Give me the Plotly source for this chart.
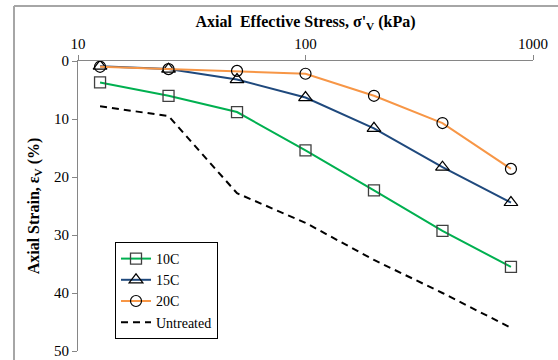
import plotly.graph_objects as go

stress = [12.5, 25, 50, 100, 200, 400, 800]
strain_10c = [3.7, 6.0, 8.8, 15.4, 22.3, 29.3, 35.5]
strain_15c = [0.9, 1.4, 3.2, 6.3, 11.6, 18.3, 24.4]
strain_20c = [1.0, 1.4, 1.7, 2.2, 6.0, 10.7, 18.6]
strain_untreated = [7.8, 9.5, 22.8, 27.9, 34.3, 40.0, 46.0]
series_names = ["10C", "15C", "20C", "Untreated"]
x_ticks = [10, 100, 1000]
y_ticks = [0, 10, 20, 30, 40, 50]

FONT = "Liberation Serif"

fig = go.Figure()
fig.add_trace(go.Scatter(
    x=stress, y=strain_10c, name=series_names[0], mode="lines+markers",
    line=dict(color="#00B050", width=2),
    marker=dict(symbol="square-open", size=11, color="#404040", line=dict(width=1.3))))
fig.add_trace(go.Scatter(
    x=stress, y=strain_15c, name=series_names[1], mode="lines+markers",
    line=dict(color="#1F497D", width=2),
    marker=dict(symbol="triangle-up-open", size=12, color="black", line=dict(width=1.2))))
fig.add_trace(go.Scatter(
    x=stress, y=strain_20c, name=series_names[2], mode="lines+markers",
    line=dict(color="#F79646", width=2),
    marker=dict(symbol="circle-open", size=11, color="black", line=dict(width=1.2))))
fig.add_trace(go.Scatter(
    x=stress, y=strain_untreated, name=series_names[3], mode="lines",
    line=dict(color="black", width=2, dash="7px,5px")))

fig.update_layout(
    width=558, height=360,
    margin=dict(l=78, r=25, t=61, b=9),
    paper_bgcolor="white", plot_bgcolor="white",
    font=dict(family=FONT, size=15, color="black"),
    showlegend=True,
    legend=dict(x=(115 - 78) / 455, y=(351 - 339) / 290, xanchor="left", yanchor="bottom",
                bordercolor="black", borderwidth=1, bgcolor="white",
                font=dict(family=FONT, size=14, color="black"), tracegroupgap=0,
                itemwidth=30),
    xaxis=dict(type="log", side="top", range=[1, 3], automargin=False,
               tickvals=x_ticks, ticktext=[str(v) for v in x_ticks],
               tickfont=dict(family=FONT, size=15),
               ticks="outside", ticklen=5, tickcolor="#868686",
               showline=True, linecolor="#868686", linewidth=1,
               showgrid=False, zeroline=False,
               title=dict(text="<b>Axial  Effective Stress, σ'<sub>V</sub> (kPa)</b>",
                          font=dict(family=FONT, size=16), standoff=4)),
    yaxis=dict(range=[50, 0], tickvals=y_ticks, automargin=False,
               tickfont=dict(family=FONT, size=15),
               ticks="outside", ticklen=5, tickcolor="#868686",
               showline=True, linecolor="#868686", linewidth=1,
               showgrid=False, zeroline=False,
               title=dict(text="<b>Axial Strain, ε<sub>V</sub> (%)</b>",
                          font=dict(family=FONT, size=16), standoff=10)),
)

# outer chart-area border (left and top edges visible)
fig.add_shape(type="line", xref="paper", yref="paper", layer="above",
              x0=(14 - 78) / 455, x1=(14 - 78) / 455,
              y0=(351 - 362) / 290, y1=(351 - 6) / 290,
              line=dict(color="#A6A6A6", width=2))
fig.add_shape(type="line", xref="paper", yref="paper", layer="above",
              x0=(14 - 78) / 455, x1=(560 - 78) / 455,
              y0=(351 - 6) / 290, y1=(351 - 6) / 290,
              line=dict(color="#A6A6A6", width=2))

fig.write_html("out.html", config={"displayModeBar": False},
               post_script="document.body.style.margin='0px';")
